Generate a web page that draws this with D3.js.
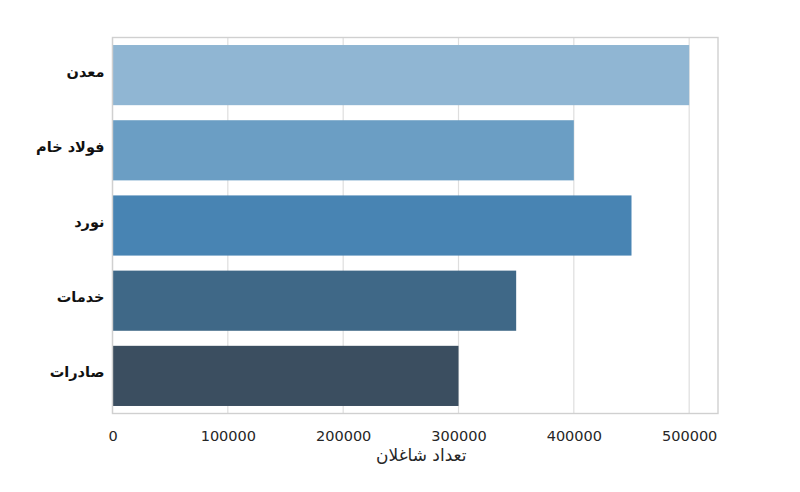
<!DOCTYPE html>
<html>
<head>
<meta charset="utf-8">
<script src="https://cdn.jsdelivr.net/npm/d3@7"></script>
<style>
body { margin: 0; background: #fff; }
svg { display: block; }
</style>
</head>
<body>
<svg id="chart" width="800" height="492"></svg>
<script>
const categories = ["معدن", "فولاد خام", "نورد", "خدمات", "صادرات"];
const values = [500000, 400000, 450000, 350000, 300000];
const colors = ["#90b6d3", "#6b9ec4", "#4884b3", "#3f6887", "#3b4e60"];
const xTicks = [0, 100000, 200000, 300000, 400000, 500000];
const xLabel = "تعداد شاغلان";

const svg = d3.select("#chart");
const m = { left: 112.5, right: 718, top: 37.5, bottom: 413.5 };

const x = d3.scaleLinear().domain([0, 525000]).range([m.left, m.right]);
const y = d3.scaleBand().domain(categories).range([m.top, m.bottom]).paddingInner(0.2).paddingOuter(0.1);

// grid
svg.append("g").selectAll("line").data(xTicks).join("line")
  .attr("x1", d => x(d)).attr("x2", d => x(d))
  .attr("y1", m.top).attr("y2", m.bottom)
  .attr("stroke", "#dedede").attr("stroke-width", 1.2);

// bars
svg.append("g").selectAll("rect").data(categories).join("rect")
  .attr("x", x(0))
  .attr("y", d => y(d))
  .attr("width", (d, i) => x(values[i]) - x(0))
  .attr("height", y.bandwidth())
  .attr("fill", (d, i) => colors[i]);

// frame
svg.append("rect")
  .attr("x", m.left).attr("y", m.top)
  .attr("width", m.right - m.left).attr("height", m.bottom - m.top)
  .attr("fill", "none").attr("stroke", "#d0d0d0").attr("stroke-width", 1.4);

// x tick labels
const xAxis = d3.axisBottom(x).tickValues(xTicks).tickFormat(d3.format("d")).tickSize(0).tickPadding(17);
const gx = svg.append("g").attr("transform", `translate(0,${m.bottom})`).call(xAxis);
gx.select(".domain").remove();
gx.selectAll("text").attr("font-family", "DejaVu Sans").attr("font-size", 14.5).attr("fill", "#262626");

// y tick labels
const yAxis = d3.axisLeft(y).tickSize(0).tickPadding(8);
const gy = svg.append("g").attr("transform", `translate(${m.left},0)`).call(yAxis);
gy.select(".domain").remove();
gy.selectAll("text").attr("font-family", "DejaVu Sans").attr("font-weight", "bold")
  .attr("font-size", 14.5).attr("fill", "#111").attr("direction", "rtl").attr("text-anchor", "start")
  .attr("dy", "0.1em");

// x label
svg.append("text")
  .attr("x", (m.left + m.right) / 2 + 6).attr("y", 461)
  .attr("text-anchor", "middle")
  .attr("font-family", "DejaVu Sans").attr("font-size", 17).attr("fill", "#262626")
  .text(xLabel);
</script>
</body>
</html>
